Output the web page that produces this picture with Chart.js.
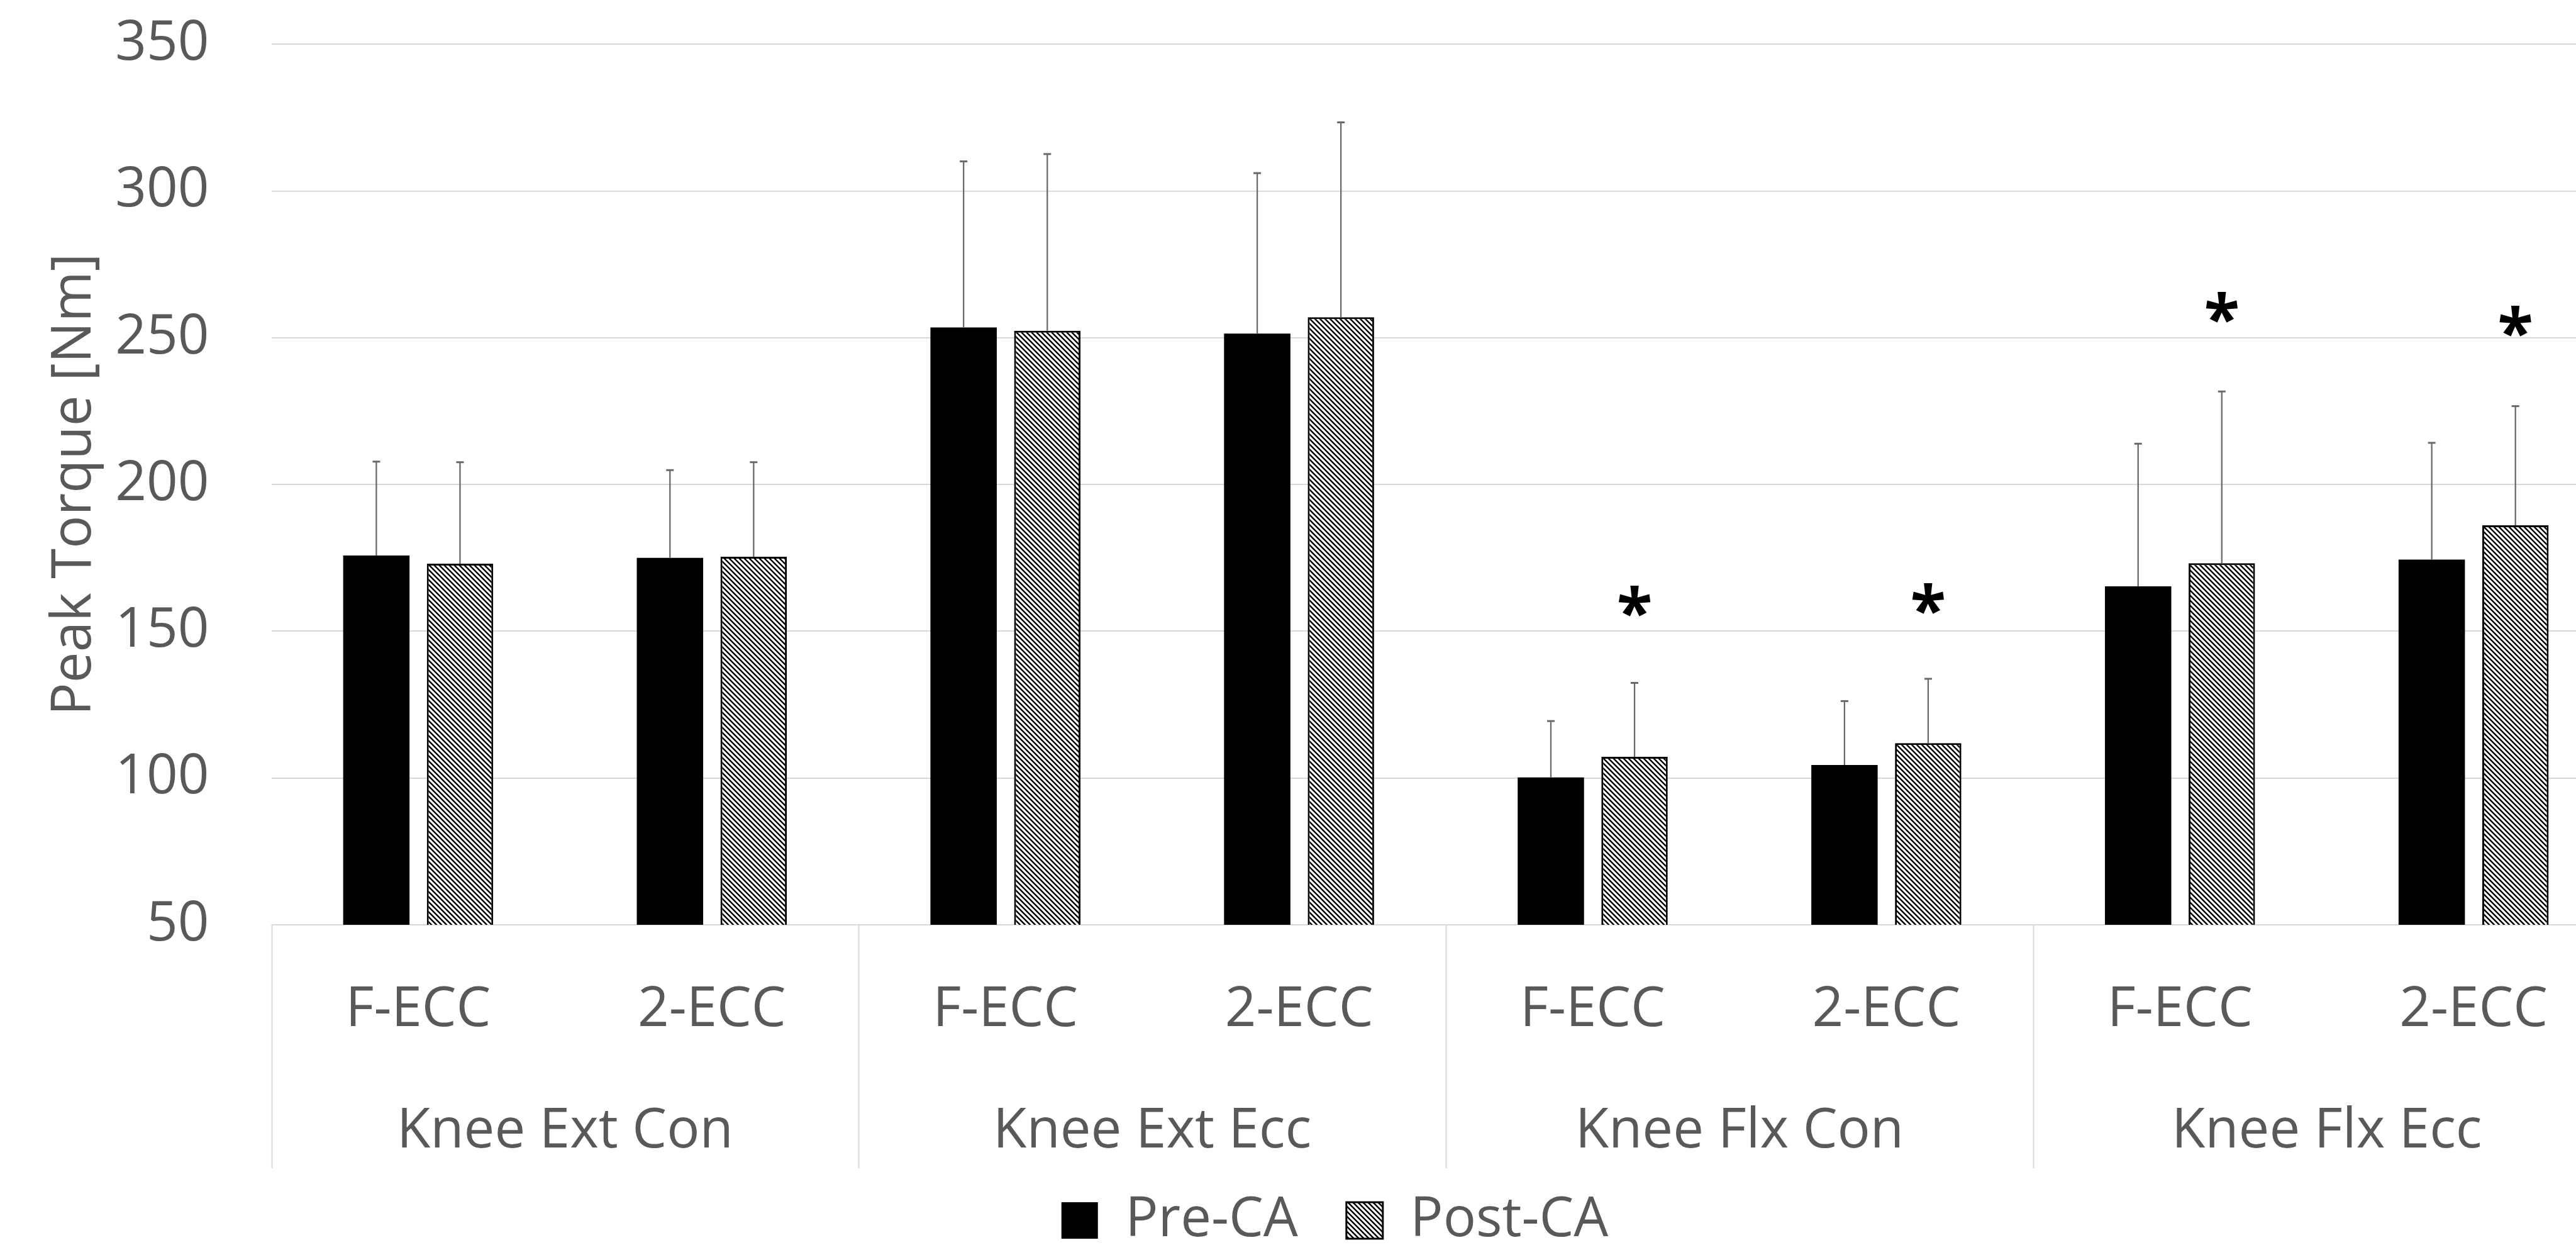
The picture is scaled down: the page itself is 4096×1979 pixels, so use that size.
<!DOCTYPE html>
<html>
<head>
<meta charset="utf-8">
<script src="https://cdn.jsdelivr.net/npm/chart.js@4.4.1/dist/chart.umd.min.js"></script>
<style>
  html, body { margin: 0; padding: 0; background: #fff; overflow: hidden; }
  #wrap { position: absolute; left: 0; top: 0; width: 4170px; height: 1994px; }
</style>
</head>
<body>
<div id="wrap"><canvas id="chart"></canvas></div>
<script>
// categories
const groupLabels = ['Knee Ext Con', 'Knee Ext Ecc', 'Knee Flx Con', 'Knee Flx Ecc'];
const subLabels = ['F-ECC', '2-ECC', 'F-ECC', '2-ECC', 'F-ECC', '2-ECC', 'F-ECC', '2-ECC'];
const seriesNames = ['Pre-CA', 'Post-CA'];

// means and upward SD (Nm)
const preMean = [175.8, 175.0, 253.5, 251.4, 100.2, 104.4, 165.3, 174.4];
const preSD = [32.0, 29.9, 56.6, 54.7, 19.2, 21.8, 48.6, 39.8];
const postMean = [173.0, 175.4, 252.4, 257.0, 107.2, 111.9, 173.2, 186.1];
const postSD = [34.6, 32.2, 60.2, 66.4, 25.2, 21.9, 58.5, 40.6];

// where the significance stars sit (value at star centre), null = none
const postStar = [null, null, null, null, 160.2, 161.2, 260.4, 255.6];

const yTicks = [50, 100, 150, 200, 250, 300, 350];

Chart.defaults.font.family = '"Open Sans", sans-serif';
Chart.defaults.color = '#595959';

const canvas = document.getElementById('chart');
const ctx = canvas.getContext('2d');

// downward diagonal hatch for the Post-CA bars
function makeHatch() {
    const s = 8;
    const tile = document.createElement('canvas');
    tile.width = s;
    tile.height = s;
    const g = tile.getContext('2d');
    g.fillStyle = '#fff';
    g.fillRect(0, 0, s, s);
    g.strokeStyle = '#000';
    g.lineWidth = 2.5;
    g.beginPath();
    g.moveTo(-1, -1); g.lineTo(s + 1, s + 1);
    g.moveTo(-1, s - 1); g.lineTo(1, s + 1);
    g.moveTo(s - 1, -1); g.lineTo(s + 1, 1);
    g.stroke();
    return ctx.createPattern(tile, 'repeat');
}

const sdSeries = [preSD, postSD];
const perGroup = subLabels.length / groupLabels.length;

const extras = {
    id: 'extras',
    afterDatasetsDraw(chart) {
        const c = chart.ctx;
        const y = chart.scales.y;
        c.save();
        // error bars, upward only
        c.strokeStyle = '#6a6a6a';
        sdSeries.forEach((sd, d) => {
            const values = chart.data.datasets[d].data;
            chart.getDatasetMeta(d).data.forEach((bar, j) => {
                const top = y.getPixelForValue(values[j] + sd[j]);
                c.lineWidth = 2.3;
                c.beginPath();
                c.moveTo(bar.x, bar.y);
                c.lineTo(bar.x, top);
                c.stroke();
                c.lineWidth = 3;
                c.beginPath();
                c.moveTo(bar.x - 6, top);
                c.lineTo(bar.x + 6, top);
                c.stroke();
            });
        });
        // stars over the Post-CA bars
        c.fillStyle = '#000';
        c.font = '700 104px "Open Sans"';
        c.textAlign = 'center';
        c.textBaseline = 'alphabetic';
        const m = c.measureText('*');
        const shift = (m.actualBoundingBoxAscent - m.actualBoundingBoxDescent) / 2;
        chart.getDatasetMeta(1).data.forEach((bar, j) => {
            if (postStar[j] === null) return;
            c.fillText('*', bar.x, y.getPixelForValue(postStar[j]) + shift);
        });
        c.restore();
    },
    afterDraw(chart) {
        // group separators and group names below the plot
        const c = chart.ctx;
        const x = chart.scales.x;
        const area = chart.chartArea;
        c.save();
        c.strokeStyle = '#d9d9d9';
        c.lineWidth = 2;
        for (let j = 0; j <= groupLabels.length; j++) {
            const px = Math.round(x.getPixelForValue(j * perGroup - 0.5)) + 0.5;
            c.beginPath();
            c.moveTo(px, area.bottom);
            c.lineTo(px, area.bottom + 387);
            c.stroke();
        }
        c.fillStyle = '#595959';
        c.font = '87px "Open Sans"';
        c.textAlign = 'center';
        c.textBaseline = 'middle';
        groupLabels.forEach((name, j) => {
            const cx = x.getPixelForValue(j * perGroup + (perGroup - 1) / 2);
            c.fillText(name, cx, area.bottom + 329);
        });
        c.restore();
    }
};

new Chart(canvas, {
    type: 'bar',
    data: {
        labels: subLabels,
        datasets: [{
            label: seriesNames[0],
            data: preMean,
            backgroundColor: '#000',
            borderColor: '#000',
            borderWidth: 0
        }, {
            label: seriesNames[1],
            data: postMean,
            backgroundColor: makeHatch(),
            borderColor: '#000',
            borderWidth: 3,
            borderSkipped: 'start'
        }]
    },
    options: {
        responsive: true,
        maintainAspectRatio: false,
        devicePixelRatio: 1,
        animation: false,
        events: [],
        categoryPercentage: 0.57,
        barPercentage: 0.793,
        layout: {
            padding: { left: 78.4, right: 3.4, top: 70.4, bottom: 0.5 }
        },
        plugins: {
            tooltip: { enabled: false },
            legend: {
                position: 'bottom',
                labels: {
                    boxWidth: 58,
                    boxHeight: 58,
                    padding: 77,
                    color: '#595959',
                    font: { size: 87 }
                }
            }
        },
        scales: {
            y: {
                min: yTicks[0],
                max: yTicks[yTicks.length - 1],
                afterFit: function(s) { s.width = 353.1; },
                ticks: {
                    stepSize: yTicks[1] - yTicks[0],
                    padding: 0,
                    font: { size: 87 }
                },
                grid: {
                    color: '#d9d9d9',
                    lineWidth: 2,
                    drawTicks: true,
                    tickLength: 99,
                    tickColor: 'rgba(0,0,0,0)'
                },
                border: { display: false },
                title: {
                    display: true,
                    text: 'Peak Torque [Nm]',
                    color: '#595959',
                    font: { size: 87, lineHeight: 0.6 },
                    padding: { top: 14.5, bottom: 0 }
                }
            },
            x: {
                afterFit: function(s) { s.height = 349.6; },
                grid: { display: false },
                border: { display: false },
                ticks: {
                    autoSkip: false,
                    maxRotation: 0,
                    padding: 76.3,
                    font: { size: 87 }
                }
            }
        }
    },
    plugins: [extras]
});
</script>
</body>
</html>
